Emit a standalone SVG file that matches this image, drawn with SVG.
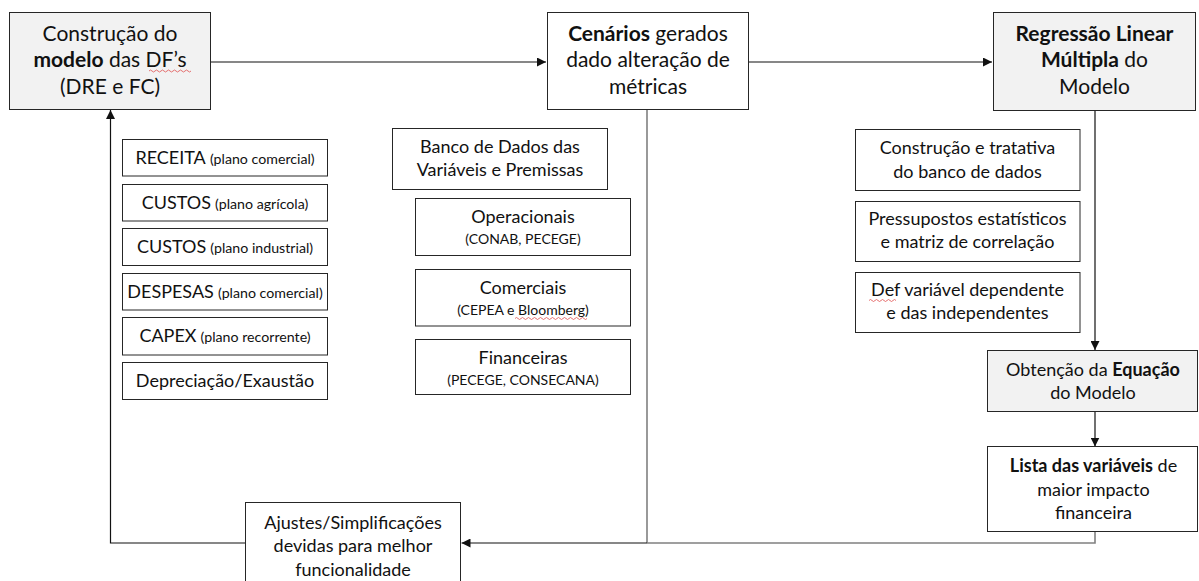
<svg xmlns="http://www.w3.org/2000/svg" width="1199" height="581" viewBox="0 0 1199 581">
  <style>
    .box { fill: #ffffff; stroke: #262626; stroke-width: 1; }
    .shade { fill: #f2f2f2; }
    text { font-family: Lato, "Liberation Sans", sans-serif; fill: #111111; text-anchor: middle; }
    .big { font-size: 21px; }
    .mid { font-size: 18px; }
    .small { font-size: 14px; }
    .note { font-size: 14.2px; }
    .b { font-weight: bold; }
    .wire { fill: none; stroke: #111111; stroke-width: 1.2; }
    .grey { fill: none; stroke: #808080; stroke-width: 1.6; }
    .spell { fill: none; stroke: #e05050; stroke-width: 0.8; }
  </style>
  <defs>
    <marker id="head" viewBox="0 0 10 10" refX="10" refY="5" markerWidth="9" markerHeight="9" markerUnits="userSpaceOnUse" orient="auto">
      <path d="M0,0 L10,5 L0,10 Z" fill="#111111"/>
    </marker>
  </defs>

  <rect width="1199" height="581" fill="#ffffff"/>

  <!-- connectors -->
  <g id="connectors">
    <path class="wire" d="M211,62 H546" marker-end="url(#head)"/>
    <path class="wire" d="M749,62 H992" marker-end="url(#head)"/>
    <path class="wire" d="M1095,111 V350" marker-end="url(#head)"/>
    <path class="wire" d="M1095,411.5 V446.5" marker-end="url(#head)"/>
    <path class="grey" d="M647,109 V543"/>
    <path class="grey" d="M1095,531.5 V543 H647"/>
    <path class="wire" d="M647,543 H461.5" marker-end="url(#head)"/>
    <path class="wire" d="M245.5,543 H110.5 V110" marker-end="url(#head)"/>
  </g>

  <!-- top row -->
  <g id="modelo-dfs">
    <rect class="box shade" x="9.5" y="12.5" width="201" height="97"/>
    <text class="big" x="110" y="41">Construção do</text>
    <text class="big" x="110" y="67"><tspan class="b">modelo</tspan> das DF’s</text>
    <text class="big" x="110" y="93.5">(DRE e FC)</text>
    <path class="spell" d="M149,71 q1.5,-2 3,0 t3,0 t3,0 t3,0 t3,0 t3,0 t3,0 t3,0 t3,0 t3,0 t3,0 t3,0 t3,0 t3,0"/>
  </g>

  <g id="cenarios">
    <rect class="box" x="547.5" y="12.5" width="201" height="97"/>
    <text class="big" x="648" y="41"><tspan class="b">Cenários</tspan> gerados</text>
    <text class="big" x="648" y="67">dado alteração de</text>
    <text class="big" x="648" y="93.5">métricas</text>
  </g>

  <g id="regressao">
    <rect class="box shade" x="993.5" y="12.5" width="202" height="98"/>
    <text class="big b" x="1094.5" y="41">Regressão Linear</text>
    <text class="big" x="1094.5" y="67"><tspan class="b">Múltipla</tspan> do</text>
    <text class="big" x="1094.5" y="93.5">Modelo</text>
  </g>

  <!-- financial statement blocks -->
  <g id="receita">
    <rect class="box" x="122.5" y="139.5" width="205" height="36.5"/>
    <text x="225" y="163.5"><tspan class="mid">RECEITA</tspan> <tspan class="note">(plano comercial)</tspan></text>
  </g>
  <g id="custos-agricola">
    <rect class="box" x="122.5" y="184.5" width="205" height="36.5"/>
    <text x="225" y="208.5"><tspan class="mid">CUSTOS</tspan> <tspan class="note">(plano agrícola)</tspan></text>
  </g>
  <g id="custos-industrial">
    <rect class="box" x="122.5" y="228.5" width="205" height="37"/>
    <text x="225" y="252.5"><tspan class="mid">CUSTOS</tspan> <tspan class="note">(plano industrial)</tspan></text>
  </g>
  <g id="despesas">
    <rect class="box" x="122.5" y="273.5" width="205" height="36.5"/>
    <text x="225" y="297.5"><tspan class="mid">DESPESAS</tspan> <tspan class="note">(plano comercial)</tspan></text>
  </g>
  <g id="capex">
    <rect class="box" x="122.5" y="317.5" width="205" height="37.5"/>
    <text x="225" y="342"><tspan class="mid">CAPEX</tspan> <tspan class="note">(plano recorrente)</tspan></text>
  </g>
  <g id="depreciacao">
    <rect class="box" x="122.5" y="362.5" width="205" height="37"/>
    <text class="mid" x="225" y="387">Depreciação/Exaustão</text>
  </g>

  <!-- data sources -->
  <g id="banco-dados">
    <rect class="box" x="392.5" y="128.5" width="215" height="61"/>
    <text class="mid" x="500" y="152.5">Banco de Dados das</text>
    <text class="mid" x="500" y="175.5">Variáveis e Premissas</text>
  </g>
  <g id="operacionais">
    <rect class="box" x="415.5" y="198.5" width="215" height="57"/>
    <text class="mid" x="523" y="222.5">Operacionais</text>
    <text class="small" x="523" y="244">(CONAB, PECEGE)</text>
  </g>
  <g id="comerciais">
    <rect class="box" x="415.5" y="269.5" width="215" height="56.5"/>
    <text class="mid" x="523" y="293.5">Comerciais</text>
    <text class="small" x="523" y="315">(CEPEA e Bloomberg)</text>
    <path class="spell" d="M515,318.5 q1.5,-2 3,0 t3,0 t3,0 t3,0 t3,0 t3,0 t3,0 t3,0 t3,0 t3,0 t3,0 t3,0 t3,0 t3,0 t3,0 t3,0 t3,0 t3,0 t3,0 t3,0 t3,0 t3,0 t3,0 t3,0"/>
  </g>
  <g id="financeiras">
    <rect class="box" x="415.5" y="339.5" width="215" height="55"/>
    <text class="mid" x="523" y="363.5">Financeiras</text>
    <text class="small" x="523" y="385">(PECEGE, CONSECANA)</text>
  </g>

  <!-- regression steps -->
  <g id="construcao-banco">
    <rect class="box" x="855.5" y="129.5" width="224.5" height="61"/>
    <text class="mid" x="967.5" y="153.5">Construção e tratativa</text>
    <text class="mid" x="967.5" y="177.5">do banco de dados</text>
  </g>
  <g id="pressupostos">
    <rect class="box" x="855.5" y="201.5" width="224.5" height="60"/>
    <text class="mid" x="967.5" y="224.5">Pressupostos estatísticos</text>
    <text class="mid" x="967.5" y="247.5">e matriz de correlação</text>
  </g>
  <g id="def-variavel">
    <rect class="box" x="855.5" y="272.5" width="224.5" height="60"/>
    <text class="mid" x="967.5" y="295.5">Def variável dependente</text>
    <text class="mid" x="967.5" y="318.5">e das independentes</text>
    <path class="spell" d="M869,300.5 q1.5,-2 3,0 t3,0 t3,0 t3,0 t3,0 t3,0 t3,0 t3,0 t3,0"/>
  </g>

  <g id="equacao">
    <rect class="box shade" x="987.5" y="350.5" width="210" height="61"/>
    <text class="mid" x="1093" y="376">Obtenção da <tspan class="b">Equação</tspan></text>
    <text class="mid" x="1093" y="399">do Modelo</text>
  </g>

  <g id="lista-variaveis">
    <rect class="box" x="987.5" y="446.5" width="210" height="85"/>
    <text class="mid" x="1093.5" y="472"><tspan class="b">Lista das variáveis</tspan> de</text>
    <text class="mid" x="1093.5" y="495.5">maior impacto</text>
    <text class="mid" x="1093.5" y="518.5">financeira</text>
  </g>

  <g id="ajustes">
    <rect class="box" x="245.5" y="502.5" width="215" height="90"/>
    <text class="mid" x="353" y="528.5">Ajustes/Simplificações</text>
    <text class="mid" x="353" y="552">devidas para melhor</text>
    <text class="mid" x="353" y="575.5">funcionalidade</text>
  </g>
</svg>
